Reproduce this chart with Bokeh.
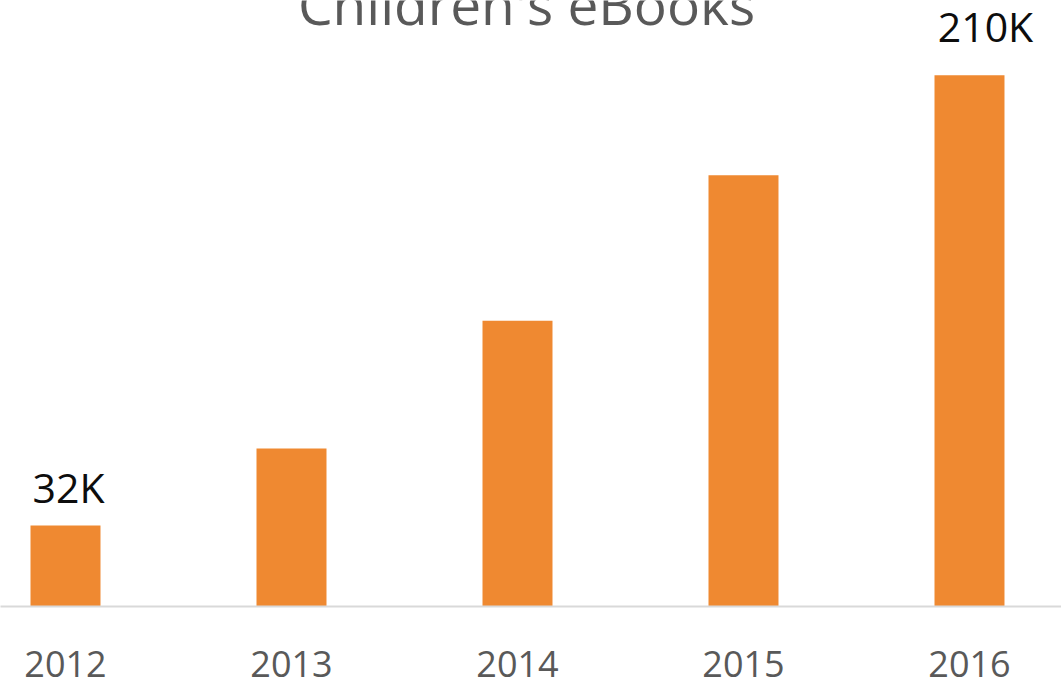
from bokeh.plotting import figure
from bokeh.models import ColumnDataSource, Range1d, FixedTicker, Label
from bokeh.embed import file_html
from bokeh.resources import INLINE
from bokeh.core.properties import value

title_text = "Children's eBooks"
years = [2012, 2013, 2014, 2015, 2016]
tick_labels = ["2012", "2013", "2014", "2015", "2016"]
ebooks_k = [32, 62.5, 113, 170.5, 210]

FONT = "Open Sans"
ORANGE = "#EF8931"
GRAY = "#595959"

W, H = 1061, 679
p = figure(width=W, height=H, output_backend="svg", toolbar_location=None,
           x_range=Range1d(2011.7124, 2016.4071), y_range=Range1d(0, 239.56),
           min_border_left=0, min_border_right=0, min_border_top=0,
           min_border_bottom=72)
p.outline_line_color = None
p.grid.grid_line_color = None
p.background_fill_color = "white"
p.border_fill_color = "white"

src = ColumnDataSource(dict(x=years, top=ebooks_k))
p.vbar(x="x", top="top", bottom=0, width=0.3097, source=src,
       fill_color=ORANGE, line_color=None)

# data labels for first and last bars
first = ColumnDataSource(dict(x=[years[0]], y=[ebooks_k[0]], t=["%dK" % ebooks_k[0]]))
last = ColumnDataSource(dict(x=[years[-1]], y=[ebooks_k[-1]], t=["%dK" % ebooks_k[-1]]))
p.text(x="x", y="y", text="t", source=first, text_align="center",
       text_baseline="alphabetic", y_offset=-39, x_offset=3,
       text_font=value(FONT), text_font_size="41px", text_color="#0D0D0D")
p.text(x="x", y="y", text="t", source=last, text_align="center",
       text_baseline="alphabetic", y_offset=-49, x_offset=16,
       text_font=value(FONT), text_font_size="41px", text_color="#0D0D0D")

title = Label(x=(years[0] + years[-1]) / 2 + 0.04, y=238.5, text=title_text,
              text_align="center", text_baseline="alphabetic",
              text_font=FONT, text_font_size="55px", text_color=GRAY)
p.add_layout(title)

p.yaxis.visible = False
xa = p.xaxis[0]
xa.ticker = FixedTicker(ticks=years)
xa.major_label_overrides = {y: t for y, t in zip(years, tick_labels)}
xa.major_tick_line_color = None
xa.minor_tick_line_color = None
xa.major_tick_out = 0
xa.major_tick_in = 0
xa.axis_line_color = "#D9D9D9"
xa.axis_line_width = 2
xa.major_label_standoff = 44
xa.major_label_text_font = FONT
xa.major_label_text_font_size = "36px"
xa.major_label_text_color = GRAY

open("out.html", "w").write(file_html(p, INLINE))
